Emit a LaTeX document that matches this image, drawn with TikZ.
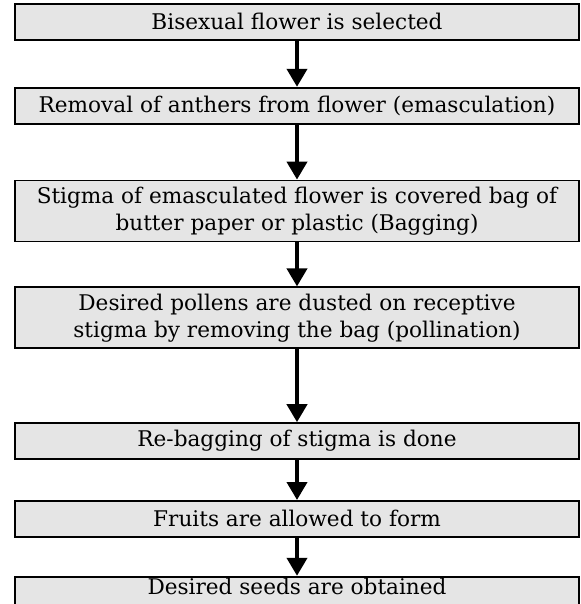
\documentclass[tikz,border=0pt]{standalone}
\usepackage{fontspec}
\setmainfont{DejaVu Serif}
\usetikzlibrary{arrows.meta,positioning}

\begin{document}
\begin{tikzpicture}[
    >={Triangle[width=10pt,length=9pt]},
    stepbox/.style={draw, line width=0.9pt, fill=black!10,
      minimum width=282pt, align=center, inner sep=2pt,
      font=\fontsize{10.8}{13.5}\selectfont},
    onerow/.style={stepbox, minimum height=18pt},
    tworow/.style={stepbox, minimum height=30.5pt},
    lastrow/.style={onerow, text height=7.6pt, text depth=12pt, inner ysep=1.5pt},
    flow/.style={->, line width=2pt},
  ]
  \useasboundingbox (0,0) rectangle (290.5pt,-302pt);
  \clip (0,0) rectangle (290.5pt,-302pt);

  % Steps of the crossing
  \node[onerow, anchor=north] (select) at (148.5pt,-1.5pt)
    {Bisexual flower is selected};
  \node[onerow, below=23pt of select] (emasc)
    {Removal of anthers from flower (emasculation)};
  \node[tworow, below=27.5pt of emasc] (bagging)
    {Stigma of emasculated flower is covered bag of\\butter paper or plastic (Bagging)};
  \node[tworow, below=22pt of bagging] (pollen)
    {Desired pollens are dusted on receptive\\stigma by removing the bag (pollination)};
  \node[onerow, below=36.5pt of pollen] (rebag)
    {Re-bagging of stigma is done};
  \node[onerow, below=20pt of rebag] (fruits)
    {Fruits are allowed to form};
  \node[lastrow, below=19pt of fruits] (seeds)
    {Desired seeds are obtained};

  % Arrows
  \draw[flow] (select) -- (emasc);
  \draw[flow] (emasc) -- (bagging);
  \draw[flow] (bagging) -- (pollen);
  \draw[flow] (pollen) -- (rebag);
  \draw[flow] (rebag) -- (fruits);
  \draw[flow] (fruits) -- (seeds);
\end{tikzpicture}
\end{document}
